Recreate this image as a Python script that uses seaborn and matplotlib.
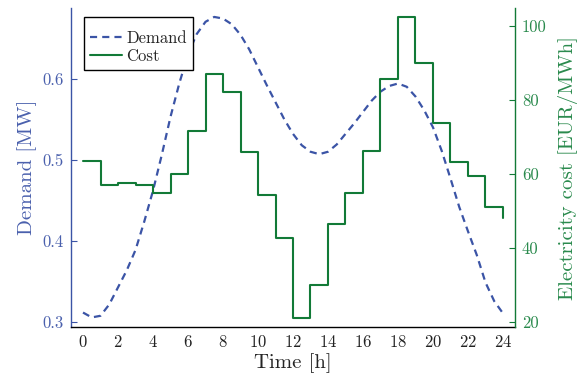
import numpy as np
import pandas as pd
import matplotlib
matplotlib.use("Agg")
import matplotlib.pyplot as plt
import seaborn as sns

# ---- data ----
demand_time = [0.0, 0.5, 1.0, 1.5, 2.0, 2.5, 3.0, 3.5, 4.0, 4.5, 5.0, 5.5, 6.0, 6.5,
               7.0, 7.5, 8.0, 8.5, 9.0, 9.5, 10.0, 10.5, 11.0, 11.5, 12.0, 12.5,
               13.0, 13.5, 14.0, 14.5, 15.0, 15.5, 16.0, 16.5, 17.0, 17.5, 18.0,
               18.5, 19.0, 19.5, 20.0, 20.5, 21.0, 21.5, 22.0, 22.5, 23.0, 23.5, 24.0]
demand_mw = [0.312, 0.306, 0.308, 0.322, 0.343, 0.364, 0.389, 0.424, 0.462, 0.506,
             0.553, 0.594, 0.630, 0.655, 0.670, 0.676, 0.674, 0.667, 0.654, 0.636,
             0.614, 0.592, 0.571, 0.550, 0.532, 0.518, 0.510, 0.507, 0.510, 0.519,
             0.532, 0.545, 0.559, 0.573, 0.584, 0.591, 0.594, 0.590, 0.578, 0.561,
             0.540, 0.511, 0.477, 0.442, 0.412, 0.383, 0.349, 0.326, 0.311]

cost_time = list(range(25))
cost_eur = [63.5, 57.0, 57.7, 57.1, 54.9, 60.1, 71.6, 87.0, 82.2, 65.9, 54.5, 42.8,
            21.1, 30.2, 46.6, 55.0, 66.2, 85.8, 102.4, 90.0, 73.9, 63.2, 59.6, 51.1, 48.1]

x_ticks = list(range(0, 25, 2))
left_ticks = [0.3, 0.4, 0.5, 0.6]
right_ticks = [20, 40, 60, 80, 100]

BLUE = "#3b54a6"
BLUE_TXT = "#4a60ad"
GREEN = "#127a37"
GREEN_TXT = "#2a8a4d"

sns.set_style("white")
plt.rcParams["font.family"] = ["cmr10", "DejaVu Serif"]
plt.rcParams["axes.formatter.use_mathtext"] = True
plt.rcParams["mathtext.fontset"] = "cm"

fig = plt.figure(figsize=(5.77, 3.79), dpi=100)
ax = fig.add_axes([71/577, 1 - 327/379, (515-71)/577, (327-8)/379])
ax2 = ax.twinx()

df_d = pd.DataFrame({"t": demand_time, "v": demand_mw})
df_c = pd.DataFrame({"t": cost_time, "v": cost_eur})

sns.lineplot(data=df_d, x="t", y="v", ax=ax, color=BLUE, lw=1.6,
             label="Demand", legend=False)
sns.lineplot(data=df_c, x="t", y="v", ax=ax2, color=GREEN, lw=1.5,
             drawstyle="steps-post", label="Cost", legend=False)
dline = ax.get_lines()[0]
dline.set_linestyle((0, (3.2, 2.3)))
dline.set_dash_capstyle("butt")

ax.set_xlim(-0.686, 24.686)
ax.set_ylim(0.2942, 0.687)
ax2.set_ylim(18.73, 104.9)

ax.set_xticks(x_ticks)
ax.set_yticks(left_ticks)
ax2.set_yticks(right_ticks)
ax.set_yticklabels([f"{v:.1f}" for v in left_ticks])
ax2.set_yticklabels([str(v) for v in right_ticks])

ax.set_xlabel("Time [h]", fontsize=15, labelpad=2)
ax.set_ylabel("Demand [MW]", fontsize=15, color=BLUE_TXT, labelpad=4)
ax2.set_ylabel("Electricity cost [EUR/MWh]", fontsize=15, color=GREEN_TXT, labelpad=8)

ax.tick_params(axis="x", direction="in", length=4, width=0.8, colors="#333333",
               labelsize=12, labelcolor="#222222", pad=5)
ax.tick_params(axis="y", direction="in", length=4, width=0.8, colors=BLUE,
               labelsize=12, labelcolor=BLUE_TXT, pad=5)
ax2.tick_params(axis="y", direction="in", length=4, width=0.8, colors=GREEN,
                labelsize=12, labelcolor=GREEN_TXT, pad=5)

for a in (ax, ax2):
    a.spines["top"].set_visible(False)
    a.grid(False)
ax.spines["right"].set_visible(False)
ax2.spines["left"].set_visible(False)
ax2.spines["bottom"].set_visible(False)
ax.spines["left"].set_color(BLUE)
ax.spines["left"].set_linewidth(1.0)
ax2.spines["right"].set_color(GREEN)
ax2.spines["right"].set_linewidth(1.0)
ax.spines["bottom"].set_color("black")
ax.spines["bottom"].set_linewidth(1.0)

handles = [dline] + ax2.get_lines()[:1]
leg = ax2.legend(handles, ["Demand", "Cost"], loc="upper left",
                 bbox_to_anchor=(0.029, 0.972), borderaxespad=0, fontsize=12,
                 title=" ", title_fontsize=3,
                 fancybox=False, framealpha=1, edgecolor="black",
                 handlelength=1.95, handletextpad=0.25, borderpad=0.35, labelspacing=0.2)
leg.get_frame().set_linewidth(1.0)

fig.savefig("out.png", dpi=100)
